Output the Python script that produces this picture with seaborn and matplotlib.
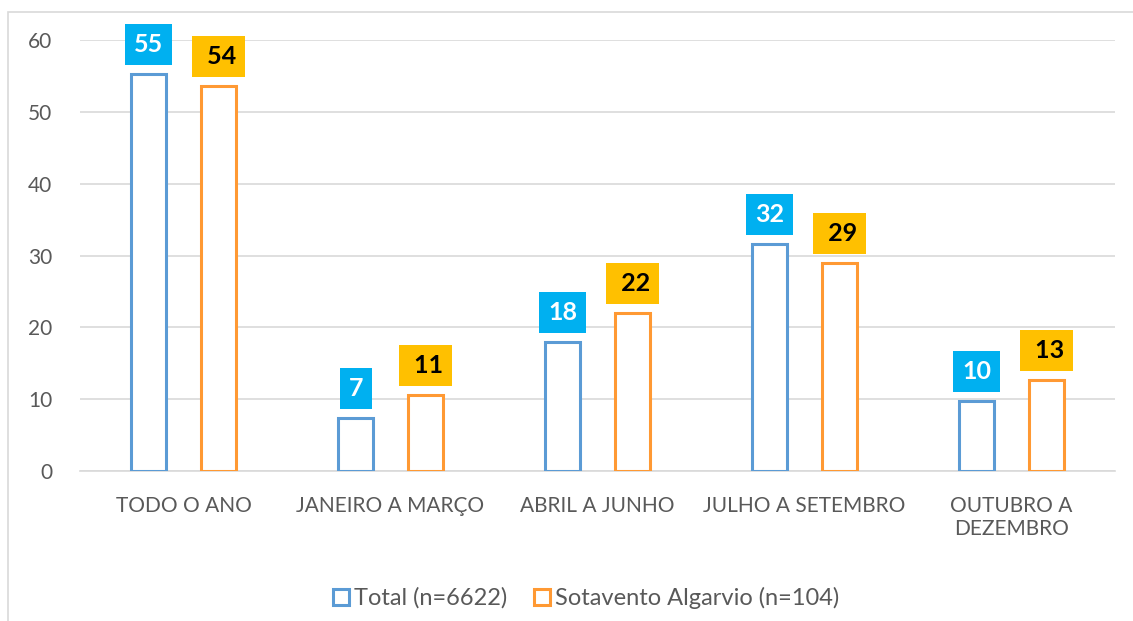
import matplotlib
matplotlib.use("Agg")
import matplotlib.pyplot as plt
import seaborn as sns
import pandas as pd
from matplotlib.lines import Line2D
from matplotlib.patches import Rectangle

categories = ["TODO O ANO", "JANEIRO A MARÇO", "ABRIL A JUNHO", "JULHO A SETEMBRO", "OUTUBRO A\nDEZEMBRO"]
series_names = ["Total (n=6622)", "Sotavento Algarvio (n=104)"]
total_values = [55.3, 7.4, 18.0, 31.6, 9.8]
sotavento_values = [53.6, 10.6, 22.0, 28.9, 12.6]
yticks = [0, 10, 20, 30, 40, 50, 60]

edge_colors = ["#5B9BD5", "#FF9933"]
box_colors = ["#00B0F0", "#FFC000"]
text_colors = ["white", "black"]

df = pd.DataFrame({
    "cat": categories * 2,
    "series": [series_names[0]] * 5 + [series_names[1]] * 5,
    "value": total_values + sotavento_values,
})

sns.set_theme(style="white")
plt.rcParams["font.family"] = ["Lato", "DejaVu Sans"]

fig = plt.figure(figsize=(11.33, 6.21), dpi=100)
fig.patches.append(Rectangle((8 / 1133, -0.05), 1.2, 1 - 12 / 621 + 0.05, transform=fig.transFigure,
                             fill=False, edgecolor="#D9D9D9", linewidth=1.2, zorder=0))
ax = fig.add_axes([80 / 1133, 1 - 471 / 621, (1115 - 80) / 1133, (471 - 40) / 621])

sns.barplot(data=df, x="cat", y="value", hue="series", order=categories, hue_order=series_names,
            width=0.67, gap=0.5, palette=["white", "white"], ax=ax, legend=False, zorder=3)

for i, container in enumerate(ax.containers):
    for bar in container:
        bar.set_edgecolor(edge_colors[i])
        bar.set_linewidth(2.2)
        bar.set_facecolor("white")
    for bar in container:
        v = bar.get_height()
        lab = f"{v:.0f}" if i == 0 else f" {v:.0f}"
        ax.annotate(lab, (bar.get_x() + bar.get_width() / 2, v), xytext=(0, 13), textcoords="offset points",
                    ha="center", va="bottom", fontsize=18, fontweight="bold", color=text_colors[i],
                    bbox=dict(boxstyle="square,pad=0.36", facecolor=box_colors[i], edgecolor="none"), zorder=5)

ax.set_ylim(0, 60)
ax.set_xlim(-0.5, 4.5)
ax.set_yticks(yticks)
ax.yaxis.grid(True, color="#D9D9D9", linewidth=1.2, zorder=0)
ax.set_xlabel("")
ax.set_ylabel("")
for s in ["top", "right", "left"]:
    ax.spines[s].set_visible(False)
ax.spines["bottom"].set_color("#D9D9D9")
ax.spines["bottom"].set_linewidth(1.2)
ax.tick_params(axis="y", length=0, pad=20, labelsize=15, labelcolor="#595959")
ax.tick_params(axis="x", length=0, pad=18, labelsize=15, labelcolor="#595959")
ax.set_xticks([-0.5, 0.5, 1.5, 2.5, 3.5, 4.5], minor=True)
ax.tick_params(axis="x", which="minor", length=6, color="#D9D9D9", width=1.2, direction="out")

handles = [Line2D([], [], marker="s", linestyle="none", markersize=11, markerfacecolor="white",
                  markeredgecolor=c, markeredgewidth=2.2) for c in edge_colors]
leg = fig.legend(handles, series_names, loc="center", bbox_to_anchor=(585 / 1133, 1 - 598 / 621), ncol=2,
                 frameon=False, fontsize=17, handletextpad=0.1, columnspacing=1.0, handlelength=0.9)
for t in leg.get_texts():
    t.set_color("#595959")

fig.savefig("out.png", dpi=100)
